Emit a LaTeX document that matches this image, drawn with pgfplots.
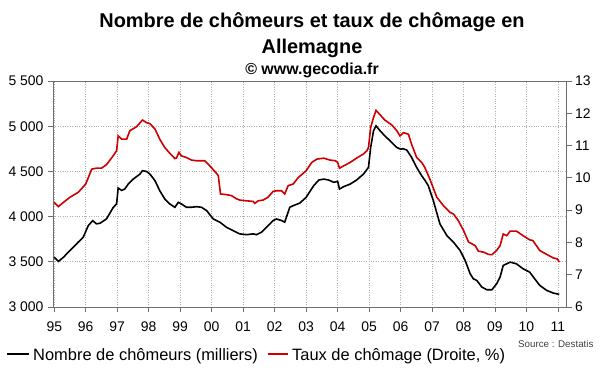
\documentclass[border=0pt]{standalone}
\usepackage{pgfplots}
\pgfplotsset{compat=1.18}
\usepackage{fontspec}
\setmainfont{Liberation Sans}
\definecolor{redline}{RGB}{204,0,0}
\definecolor{axisgray}{RGB}{110,110,110}
\definecolor{gridgray}{RGB}{175,175,175}
\begin{document}
\begin{tikzpicture}[x=1bp,y=1bp]
\path[use as bounding box] (0,0) rectangle (600,372);
\begin{axis}[at={(53bp,65bp)}, anchor=south west, scale only axis,
  width=513.5bp, height=226bp,
  xmin=1994.96, xmax=2011.27, ymin=3000, ymax=5500,
  axis x line*=bottom, axis y line*=left,
  xtick={1995,...,2011},
  xticklabels={95,96,97,98,99,00,01,02,03,04,05,06,07,08,09,10,11},
  ytick={3000,3500,...,5500},
  grid=major, major grid style={gridgray, dotted, line width=0.7bp},
  axis line style={axisgray, line width=0.8bp},
  tick style={axisgray, line width=0.8bp},
  tick align=outside, major tick length=5bp,
  ticklabel style={font=\fontsize{14}{14}\selectfont},
  /pgf/number format/assume math mode=true,
  /pgf/number format/1000 sep={\ },
  xticklabel style={yshift=-6bp},
  yticklabel style={xshift=-1bp},
]
\addplot[black, line width=1.6bp] coordinates {
(1995.00,3551)(1995.13,3504)(1995.29,3550)(1995.50,3625)(1995.76,3717)(1995.92,3772)(1996.08,3900)(1996.22,3955)(1996.34,3920)(1996.45,3926)(1996.66,3975)(1996.87,4100)(1996.98,4140)(1997.03,4316)(1997.14,4290)(1997.24,4305)(1997.35,4360)(1997.51,4415)(1997.72,4470)(1997.80,4507)(1997.93,4500)(1998.04,4470)(1998.20,4397)(1998.35,4287)(1998.51,4195)(1998.67,4140)(1998.83,4103)(1998.94,4158)(1999.04,4140)(1999.20,4103)(1999.36,4103)(1999.52,4110)(1999.68,4103)(1999.84,4066)(2000.05,3974)(2000.26,3938)(2000.47,3882)(2000.68,3845)(2000.89,3809)(2001.11,3800)(2001.32,3809)(2001.42,3800)(2001.58,3827)(2001.74,3882)(2001.95,3956)(2002.06,3974)(2002.22,3956)(2002.32,3938)(2002.48,4103)(2002.59,4121)(2002.80,4150)
(2003.00,4213)(2003.24,4342)(2003.40,4404)(2003.56,4415)(2003.72,4404)(2003.88,4379)(2004.00,4390)(2004.06,4305)(2004.19,4331)(2004.40,4360)(2004.60,4404)(2004.82,4470)(2004.98,4544)(2005.05,4765)(2005.14,4949)(2005.22,5004)(2005.35,4949)(2005.50,4893)(2005.72,4820)(2005.88,4765)(2006.00,4746)(2006.09,4750)(2006.20,4735)(2006.35,4654)(2006.51,4544)(2006.67,4452)(2006.77,4404)(2006.88,4342)(2007.04,4176)(2007.25,3919)(2007.47,3790)(2007.68,3717)(2007.89,3625)(2008.05,3515)(2008.21,3368)(2008.31,3312)(2008.42,3294)(2008.58,3221)(2008.74,3191)(2008.90,3191)(2009.05,3257)(2009.16,3331)(2009.26,3460)(2009.37,3478)(2009.48,3496)(2009.68,3478)(2009.89,3423)(2010.10,3386)(2010.26,3312)(2010.42,3239)(2010.64,3184)(2010.85,3154)(2011.04,3140)
};
\end{axis}
\begin{axis}[at={(53bp,65bp)}, anchor=south west, scale only axis,
  width=513.5bp, height=226bp,
  xmin=1994.96, xmax=2011.27, ymin=6, ymax=13,
  axis x line*=top, axis y line*=right,
  xtick=\empty,
  ytick={6,...,13},
  axis line style={axisgray, line width=0.8bp},
  tick style={axisgray, line width=0.8bp},
  tick align=outside, major tick length=5bp,
  ticklabel style={font=\fontsize{14}{14}\selectfont},
  /pgf/number format/assume math mode=true,
]
\addplot[redline, line width=1.6bp] coordinates {
(1995.00,9.24)(1995.13,9.11)(1995.29,9.24)(1995.50,9.40)(1995.76,9.55)(1996.00,9.81)(1996.19,10.27)(1996.34,10.30)(1996.50,10.30)(1996.66,10.41)(1996.87,10.68)(1996.98,10.84)(1997.03,11.30)(1997.14,11.20)(1997.30,11.20)(1997.40,11.46)(1997.61,11.58)(1997.80,11.79)(1997.93,11.71)(1998.04,11.68)(1998.20,11.51)(1998.35,11.20)(1998.51,10.94)(1998.67,10.76)(1998.83,10.60)(1998.88,10.61)(1998.96,10.79)(1999.04,10.68)(1999.20,10.63)(1999.36,10.55)(1999.52,10.53)(1999.78,10.53)(1999.94,10.37)(2000.10,10.20)(2000.21,10.07)(2000.28,9.50)(2000.47,9.48)(2000.63,9.45)(2000.79,9.35)(2000.90,9.31)(2001.10,9.29)(2001.32,9.27)(2001.37,9.21)(2001.48,9.29)(2001.63,9.31)(2001.79,9.40)(2001.95,9.58)(2002.06,9.60)(2002.22,9.60)(2002.32,9.50)(2002.43,9.76)(2002.59,9.81)(2002.75,10.01)
(2003.00,10.22)(2003.18,10.48)(2003.34,10.58)(2003.56,10.61)(2003.76,10.55)(2003.93,10.53)(2004.00,10.48)(2004.06,10.30)(2004.19,10.37)(2004.40,10.48)(2004.60,10.61)(2004.82,10.74)(2004.93,10.84)(2004.98,10.94)(2005.05,11.56)(2005.14,11.87)(2005.22,12.09)(2005.35,11.95)(2005.50,11.79)(2005.72,11.64)(2005.88,11.46)(2005.98,11.30)(2006.09,11.40)(2006.25,11.35)(2006.35,11.04)(2006.51,10.63)(2006.67,10.48)(2006.77,10.32)(2006.93,9.96)(2007.15,9.40)(2007.36,9.14)(2007.57,8.93)(2007.68,8.88)(2007.83,8.68)(2008.00,8.37)(2008.16,8.01)(2008.26,7.96)(2008.37,7.90)(2008.47,7.73)(2008.63,7.70)(2008.79,7.63)(2008.90,7.62)(2009.05,7.75)(2009.16,7.90)(2009.26,8.26)(2009.37,8.21)(2009.48,8.35)(2009.68,8.35)(2009.89,8.21)(2010.10,8.08)(2010.20,8.06)(2010.42,7.75)(2010.64,7.63)(2010.85,7.52)(2010.98,7.49)(2011.04,7.39)
};
\end{axis}
% titles
\node[anchor=base, inner sep=0, font=\bfseries\fontsize{20}{20}\selectfont] at (312,345) {Nombre de chômeurs et taux de chômage en};
\node[anchor=base, inner sep=0, font=\bfseries\fontsize{20}{20}\selectfont] at (312,319) {Allemagne};
\node[anchor=base, inner sep=0, font=\bfseries\fontsize{16}{16}\selectfont] at (312,298) {© www.gecodia.fr};
% legend
\draw[black, line width=1.6bp] (7,18) -- (29,18);
\node[anchor=base west, inner sep=0, font=\fontsize{16.5}{17}\selectfont] at (33,12) {Nombre de chômeurs (milliers)};
\draw[redline, line width=1.6bp] (268,18) -- (288,18);
\node[anchor=base west, inner sep=0, font=\fontsize{16.5}{17}\selectfont] at (292,12) {Taux de chômage (Droite, \%)};
\node[anchor=base west, inner sep=0, font=\fontsize{9.8}{10}\selectfont, text=black!75] at (518,25) {Source : Destatis};
\end{tikzpicture}
\end{document}
